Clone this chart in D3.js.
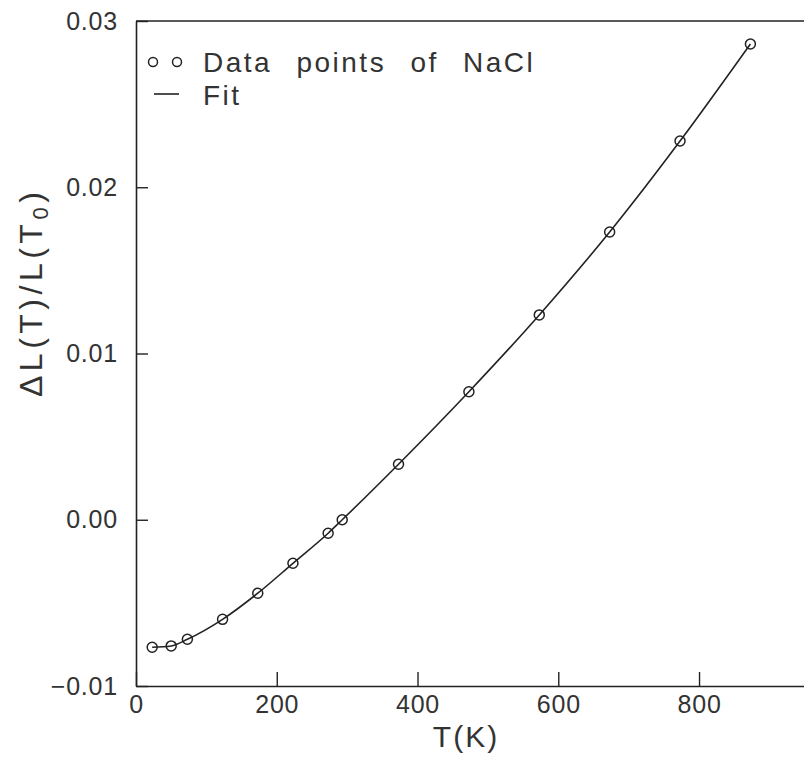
<!DOCTYPE html>
<html>
<head>
<meta charset="utf-8">
<script src="https://cdn.jsdelivr.net/npm/d3@7"></script>
<style>
  body { margin: 0; background: #fff; }
  svg { display: block; font-family: "Liberation Sans", Arial, sans-serif; }
  .tick text { fill: #333; }
</style>
</head>
<body>
<div id="chart"></div>
<script>
// temperature (K) and relative length change of NaCl
const temps = [23, 50, 73, 123, 173, 223, 273, 293, 373, 473, 573, 673, 773, 873];
const dL = [-0.00767, -0.00759, -0.00719, -0.00599, -0.00442, -0.00262, -0.00081,
            0.0, 0.00334, 0.0077, 0.01232, 0.01731, 0.02278, 0.02862];
const xTicks = [0, 200, 400, 600, 800];
const yTicks = [-0.01, 0.0, 0.01, 0.02, 0.03];

const width = 804, height = 759;
const margin = { top: 21, right: 0, bottom: 73, left: 136 };

const dataset = temps.map((t, i) => ({ x: t, y: dL[i] }));

const svg = d3.select("#chart").append("svg")
    .attr("width", width)
    .attr("height", height);

var xScale = d3.scaleLinear()
    .domain([0, 950])
    .range([margin.left, margin.left + 0.7038 * 950]);

var yScale = d3.scaleLinear()
    .domain([-0.01, 0.03])
    .range([height - margin.bottom, margin.top]);

const ink = "#222";

// x axis, ticks pointing inward
const xAxis = svg.append("g")
    .attr("transform", "translate(0," + yScale(-0.01) + ")")
    .call(d3.axisBottom(xScale).tickValues(xTicks).tickSizeInner(-14).tickSizeOuter(0).tickPadding(9));

// y axis
const yAxis = svg.append("g")
    .attr("transform", "translate(" + xScale(0) + ",0)")
    .call(d3.axisLeft(yScale).tickValues(yTicks).tickFormat(d3.format(".2f")).tickSizeInner(-12).tickSizeOuter(0).tickPadding(18));

[xAxis, yAxis].forEach(g => {
    g.select(".domain").attr("stroke", ink).attr("stroke-width", 1.6);
    g.selectAll(".tick line").attr("stroke", ink).attr("stroke-width", 1.4);
    g.selectAll(".tick text").attr("font-size", "25px").attr("letter-spacing", "0.8px");
});

// top frame line running off the right edge
svg.append("line")
    .attr("x1", xScale(0)).attr("x2", width)
    .attr("y1", yScale(0.03)).attr("y2", yScale(0.03))
    .attr("stroke", ink).attr("stroke-width", 1.6);

// fit line
var line = d3.line()
    .x(d => xScale(d.x))
    .y(d => yScale(d.y))
    .curve(d3.curveMonotoneX);

svg.append("path")
    .datum(dataset)
    .attr("fill", "none")
    .attr("stroke", ink)
    .attr("stroke-width", 1.6)
    .attr("d", line);

svg.selectAll(".dot")
    .data(dataset)
    .enter()
    .append("circle")
    .attr("class", "dot")
    .attr("cx", d => xScale(d.x))
    .attr("cy", d => yScale(d.y))
    .attr("r", 5)
    .attr("fill", "none")
    .attr("stroke", ink)
    .attr("stroke-width", 1.5);

// legend
const legend = svg.append("g");
[153, 177].forEach(cx => {
    legend.append("circle")
        .attr("cx", cx).attr("cy", 62).attr("r", 4.5)
        .attr("fill", "none").attr("stroke", ink).attr("stroke-width", 1.5);
});
legend.append("line")
    .attr("x1", 154).attr("x2", 179).attr("y1", 94).attr("y2", 94)
    .attr("stroke", ink).attr("stroke-width", 1.6);
legend.append("text")
    .attr("x", 203).attr("y", 72)
    .attr("font-size", "28px").attr("fill", "#333")
    .attr("letter-spacing", "2.5px").attr("word-spacing", "14px")
    .text("Data points of NaCl");
legend.append("text")
    .attr("x", 203).attr("y", 105)
    .attr("font-size", "28px").attr("fill", "#333")
    .attr("letter-spacing", "2.5px")
    .text("Fit");

// axis titles
svg.append("text")
    .attr("x", 466).attr("y", 747)
    .attr("text-anchor", "middle")
    .attr("font-size", "30px").attr("fill", "#333")
    .attr("letter-spacing", "2px")
    .text("T(K)");

const yTitle = svg.append("text")
    .attr("transform", "translate(42,397) rotate(-90)")
    .attr("font-size", "32px").attr("fill", "#333")
    .attr("letter-spacing", "4.5px");
yTitle.append("tspan").text("ΔL(T)/L(T");
yTitle.append("tspan").attr("font-size", "22px").attr("dy", 6).text("0");
yTitle.append("tspan").attr("dy", -6).text(")");
</script>
</body>
</html>
